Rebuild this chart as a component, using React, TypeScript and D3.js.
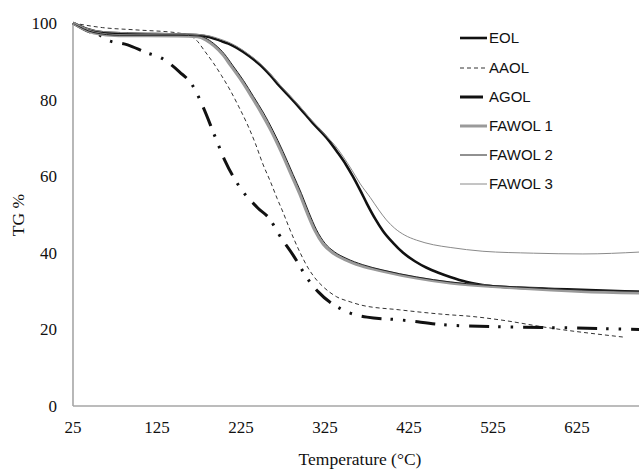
import React, { useRef, useEffect } from 'react';
import * as d3 from 'd3';

// temperature (°C) / TG % pairs
const eol: [number, number][] = [
  [25, 100], [40, 98.6], [60, 97.6], [100, 97.2], [150, 97], [175, 96.8], [188, 96.3], [200, 95.4],
  [210, 94.6], [220, 93.5], [235, 91.3], [248, 89], [260, 86.3], [271, 83.5], [283, 80.7], [295, 77.8],
  [310, 74], [327, 70], [340, 66.2], [350, 63], [358, 60], [367, 56.3], [375, 52.8], [385, 48.8],
  [394, 45.7], [406, 42.6], [418, 40], [432, 37.8], [446, 36.1], [460, 34.8], [474, 33.7], [494, 32.4],
  [520, 31.4], [553, 30.9], [613, 30.5], [700, 29.8],
];
const aaol: [number, number][] = [
  [25, 100], [60, 98.8], [100, 98.2], [150, 97.4], [165, 96.6], [172, 95.5], [182, 92.6], [192, 89.6],
  [202, 86.2], [212, 82.5], [222, 78.3], [232, 73.8], [242, 68.6], [251, 63.2], [260, 58.6], [268, 54.2],
  [275, 50.6], [283, 46.2], [295, 40.2], [305, 36], [315, 32.9], [323, 31.1], [339, 28.5], [355, 27.2],
  [367, 26.4], [414, 25.1], [474, 23.8], [494, 23.5], [533, 22.5], [592, 20.4], [680, 18],
];
const agol: [number, number][] = [
  [25, 100], [45, 97.7], [54, 97.2], [65, 95.6], [90, 94.3], [113, 92.2], [129, 91], [152, 87.2],
  [167, 83.8], [180, 78], [194, 70.4], [206, 64], [224, 57], [245, 51.7], [260, 48.6], [269, 45.2],
  [287, 39.4], [307, 32.4], [317, 29.8], [346, 25.1], [375, 23.2], [414, 22.5], [474, 21.1],
  [494, 20.9], [553, 20.6], [613, 20.4], [700, 20],
];
const fawol1: [number, number][] = [
  [25, 100], [50, 97.4], [80, 96.7], [150, 96.6], [173, 96.4], [183, 95.6], [193, 94], [203, 91.8],
  [213, 88.8], [226, 84.8], [238, 80.6], [250, 76.2], [261, 71.8], [273, 66.3], [285, 60.3], [295, 55.3],
  [304, 50.3], [313, 45.8], [323, 42.2], [334, 40], [348, 38.3], [368, 36.6], [394, 35.2], [434, 33.4],
  [474, 32.1], [553, 30.8], [630, 29.9], [700, 29.5],
];
const fawol2: [number, number][] = [
  [25, 100], [50, 97.5], [80, 96.8], [150, 96.8], [175, 96.6], [185, 95.8], [195, 94.2], [205, 92],
  [215, 89], [228, 85], [240, 80.8], [252, 76.5], [263, 72], [275, 66.5], [287, 60.5], [297, 55.5],
  [306, 50.5], [315, 46], [325, 42.5], [336, 40.3], [350, 38.6], [370, 36.9], [394, 35.5], [434, 33.7],
  [474, 32.4], [553, 31.1], [630, 30.3], [700, 30],
];
const fawol3: [number, number][] = [
  [25, 100], [40, 98.7], [60, 97.8], [100, 97.4], [150, 97.2], [175, 97], [188, 96.6], [200, 95.8],
  [210, 95], [220, 93.9], [235, 91.7], [248, 89.4], [260, 86.7], [271, 83.9], [283, 81.1], [295, 78.2],
  [310, 74.4], [327, 70.4], [337, 68], [347, 65], [357, 61.6], [367, 58], [379, 54.4], [389, 51.2],
  [398, 48.6], [408, 46.4], [420, 44.6], [434, 43.3], [454, 42.1], [474, 41.4], [513, 40.4],
  [573, 39.9], [632, 39.7], [700, 40.2],
];

const xTicks = [25, 125, 225, 325, 425, 525, 625];
const yTicks = [0, 20, 40, 60, 80, 100];

const series = [
  { name: 'EOL', data: eol, color: '#111', width: 2.6, dash: null, legendDash: null },
  { name: 'AAOL', data: aaol, color: '#333', width: 1, dash: '4,3', legendDash: '4,3' },
  { name: 'AGOL', data: agol, color: '#111', width: 3, dash: '20,9,2.5,10,2.5,10', legendDash: null },
  { name: 'FAWOL 1', data: fawol1, color: '#9a9a9a', width: 3, dash: null, legendDash: null },
  { name: 'FAWOL 2', data: fawol2, color: '#222', width: 1, dash: null, legendDash: null },
  { name: 'FAWOL 3', data: fawol3, color: '#8a8a8a', width: 1, dash: null, legendDash: null },
];

const App = () => {
  const ref = useRef<SVGSVGElement>(null);
  useEffect(() => {
    document.body.style.margin = '0';
    const width = 639;
    const height = 469;
    const svg = d3.select(ref.current);
    svg.selectAll('*').remove();
    svg.attr('width', width).attr('height', height);

    const x = d3.scaleLinear().domain([25, 700]).range([73, 640]);
    const y = d3.scaleLinear().domain([0, 100]).range([406, 23]);
    const serif = '"Liberation Serif", "Times New Roman", serif';
    const sans = '"Liberation Sans", Arial, sans-serif';

    // axes
    svg.append('line').attr('x1', x(25)).attr('x2', 640).attr('y1', y(0)).attr('y2', y(0))
      .attr('stroke', '#a6a6a6').attr('stroke-width', 1.6);
    svg.append('line').attr('x1', x(25)).attr('x2', x(25)).attr('y1', y(0)).attr('y2', y(100))
      .attr('stroke', '#a6a6a6').attr('stroke-width', 1.6);

    svg.selectAll('text.yt').data(yTicks).join('text').attr('class', 'yt')
      .attr('x', 57).attr('y', d => y(d)).attr('dy', '0.35em').attr('text-anchor', 'end')
      .style('font-family', serif).style('font-size', '17px').attr('fill', '#111').text(d => d);
    svg.selectAll('text.xt').data(xTicks).join('text').attr('class', 'xt')
      .attr('x', d => x(d)).attr('y', 433).attr('text-anchor', 'middle')
      .style('font-family', serif).style('font-size', '17px').attr('fill', '#111').text(d => d);

    svg.append('text').attr('x', 360).attr('y', 465).attr('text-anchor', 'middle')
      .style('font-family', serif).style('font-size', '17.5px').attr('fill', '#111').text('Temperature (°C)');
    svg.append('text').attr('transform', 'translate(24,215) rotate(-90)').attr('text-anchor', 'middle')
      .style('font-family', serif).style('font-size', '17.5px').attr('fill', '#111').text('TG %');

    const line = d3.line<[number, number]>().x(d => x(d[0])).y(d => y(d[1])).curve(d3.curveMonotoneX);

    series.forEach(s => {
      svg.append('path').attr('d', line(s.data)).attr('fill', 'none').attr('stroke', s.color)
        .attr('stroke-width', s.width).attr('stroke-dasharray', s.dash);
    });

    // legend
    const legendY = [38, 68, 97, 126, 155, 184];
    series.forEach((s, i) => {
      const g = svg.append('g').attr('transform', `translate(0,${legendY[i]})`);
      g.append('line').attr('x1', 460).attr('x2', s.name === 'AGOL' ? 483 : 487).attr('y1', 0).attr('y2', 0)
        .attr('stroke', s.color).attr('stroke-width', s.width).attr('stroke-dasharray', s.legendDash);
      g.append('text').attr('x', 489).attr('dy', '0.36em').style('font-family', sans)
        .style('font-size', '15px').attr('fill', '#111').text(s.name);
    });
  }, []);

  return <svg ref={ref} style={{ display: 'block' }} />;
};

export default App;
